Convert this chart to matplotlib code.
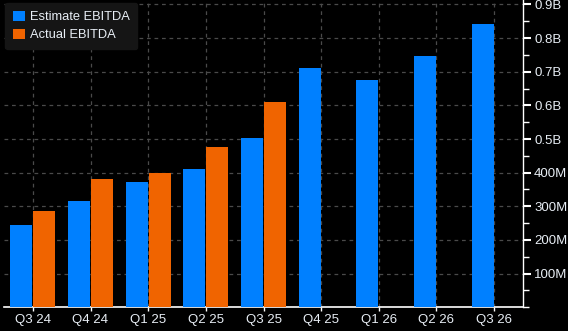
import matplotlib.pyplot as plt
import numpy as np
from matplotlib.ticker import MultipleLocator, FixedLocator

# EBITDA trimestriel : estimation vs réalisé (en millions)
quarters = ['Q3 24', 'Q4 24', 'Q1 25', 'Q2 25', 'Q3 25', 'Q4 25', 'Q1 26', 'Q2 26', 'Q3 26']
estimate = [244, 316, 372, 411, 504, 710, 674, 746, 842]
actual = [286, 381, 399, 475, 609]

ytick_vals = [100, 200, 300, 400, 500, 600, 700, 800, 900]
ytick_labels = ['100M', '200M', '300M', '400M', '0.5B', '0.6B', '0.7B', '0.8B', '0.9B']

plt.rcParams['font.family'] = ['Liberation Sans', 'DejaVu Sans']

blue = '#0080ff'
orange = '#f06400'
txt = '#e8eef5'

fig = plt.figure(figsize=(5.68, 3.31), dpi=100, facecolor='black')
ax = fig.add_axes([4/568, (331-307.3)/331, 519/568, 307.3/331])
ax.set_facecolor('black')

x = np.arange(len(quarters))
w = 0.38
ax.bar(x - w/2 - 0.01, estimate, w, color=blue, label='Estimate EBITDA', zorder=3)
ax.bar(x[:len(actual)] + w/2 + 0.01, actual, w, color=orange, label='Actual EBITDA', zorder=3)

ax.set_xlim(-0.5, len(quarters) - 0.5)
ax.set_ylim(0, 913)

ax.set_xticks(x)
ax.set_xticklabels(quarters, fontsize=9.5)
ax.tick_params(axis='x', colors='white', length=3, width=1, pad=2, labelcolor=txt)

ax.yaxis.tick_right()
ax.yaxis.set_major_locator(FixedLocator(ytick_vals))
ax.set_yticklabels(ytick_labels)
ax.yaxis.set_minor_locator(MultipleLocator(50))
ax.tick_params(axis='y', which='major', colors='white', length=6, width=1.5,
               pad=2, labelsize=9.5, labelcolor=txt)
ax.tick_params(axis='y', which='minor', colors='white', length=4, width=1)

ax.grid(True, which='major', color='#4a4a4a', linestyle=(0, (3, 3)), linewidth=0.9, zorder=0)

for s in ['top', 'left']:
    ax.spines[s].set_visible(False)
ax.spines['right'].set_color('white')
ax.spines['bottom'].set_color('white')
ax.spines['bottom'].set_linewidth(1.2)
ax.spines['right'].set_linewidth(1)

leg = ax.legend(loc='upper left', bbox_to_anchor=(0.0, 0.995), fontsize=9.3,
                handlelength=0.9, handleheight=0.9, handletextpad=0.4,
                labelspacing=0.4, borderpad=0.6, borderaxespad=0.1,
                frameon=True, fancybox=True)
leg.get_frame().set_facecolor('#151515')
leg.get_frame().set_edgecolor('#151515')
leg.get_frame().set_alpha(1)
for t in leg.get_texts():
    t.set_color(txt)

plt.savefig('out.png', dpi=100, facecolor='black')
